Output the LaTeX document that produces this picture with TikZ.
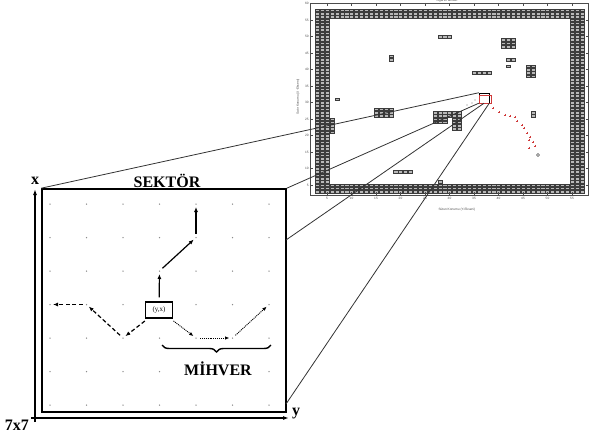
\documentclass[tikz,border=0pt]{standalone}
\usepackage{fontspec}
\setmainfont{Liberation Serif}
\setsansfont{Liberation Sans}
\usetikzlibrary{arrows.meta,decorations.pathreplacing}
\definecolor{wallgray}{HTML}{9A9A9A}
\definecolor{walledge}{HTML}{3C3C3C}
\definecolor{pathred}{HTML}{D03A3A}
\definecolor{dotgray}{HTML}{8C8C8C}

\begin{document}
\begin{tikzpicture}[x=1pt,y=-1pt,>=Latex]

\tikzset{
lbl/.style={font=\fontsize{16}{16}\selectfont\bfseries,inner sep=0pt},
tiny/.style={font=\sffamily\fontsize{3.2}{3.4}\selectfont,inner sep=0.5pt,text=black!70},
wall/.style={draw=walledge,fill=wallgray!70,line width=0.25pt},
sol/.style={-{Latex[length=5pt,width=4pt]},line width=1.2pt,shorten <=4pt,shorten >=3pt},
dsh/.style={-{Latex[length=5pt,width=4pt]},line width=1.2pt,dash pattern=on 4pt off 2.5pt,shorten <=4pt,shorten >=3pt},
dtt/.style={-{Latex[length=4.5pt,width=3.5pt]},line width=0.9pt,dash pattern=on 1pt off 0.9pt,shorten <=4pt,shorten >=3pt},
ax/.style={-{Latex[length=6pt,width=4pt]},line width=1.5pt,shorten <=-4pt},
zoomline/.style={line width=0.8pt,black!80}
}

\useasboundingbox (0,0) rectangle (590,437);

% grid map
\begin{scope}[shift={(302.5,201.5)},x=4.9pt,y=3.3pt]
\foreach \c in {3,4,5,55,56,57}
  \foreach \r in {3,...,58}
    \draw[wall] (\c-0.42,\r-0.4) rectangle (\c+0.42,\r+0.4);
\foreach \c in {6,...,54}
  \foreach \r in {3,4,5,56,57,58}
    \draw[wall] (\c-0.42,\r-0.4) rectangle (\c+0.42,\r+0.4);
\foreach \c/\r in {7/31,6/21,6/22,6/23,6/24,6/25,18/43,18/44,
    15/26,16/26,17/26,18/26,15/27,16/27,17/27,18/27,15/28,16/28,17/28,18/28,
    28/50,29/50,30/50,
    27/26,28/26,29/26,30/26,31/26,32/26,27/27,28/27,29/27,30/27,31/27,32/27,
    27/24,28/24,29/24,27/25,28/25,29/25,31/22,32/22,31/23,32/23,31/24,32/24,31/25,32/25,
    19/9,20/9,21/9,22/9,28/6,35/39,36/39,37/39,38/39,
    41/47,42/47,43/47,41/48,42/48,43/48,41/49,42/49,43/49,
    42/43,43/43,42/41,46/38,47/38,46/39,47/39,46/40,47/40,46/41,47/41,47/26,47/27}
  \draw[wall] (\c-0.42,\r-0.4) rectangle (\c+0.42,\r+0.4);
\draw[line width=0.4pt,black!70] (1.5,2) rectangle (58.4,60.2);
\foreach \t in {5,10,...,55} {
  \draw[line width=0.3pt,black!70] (\t,2) -- (\t,2.9) (\t,60.2) -- (\t,59.3);
  \node[tiny,below] (tx\t) at (\t,1.6) {\t};
}
\foreach \t in {5,10,...,60} {
  \draw[line width=0.3pt,black!70] (1.5,\t) -- (2.1,\t) (58.4,\t) -- (57.8,\t);
  \node[tiny,left] (ty\t) at (1.4,\t) {\t};
}
\node[tiny] (xlab) at (31.5,-2.4) {Sütun Konumu (Y-Ekseni)};
\node[tiny,rotate=90] (ylab) at (-0.9,31.7) {Satır Konumu (X-Ekseni)};
\node[tiny] (maptitle) at (29.5,60.8) {Izgara Haritası};
\end{scope}

\foreach \px/\py in {467/105,472/103,475/100}
  \fill[black!55] (\px,\py) circle (0.6pt);
\foreach \px/\py in {493/108,499/112,505/115,510/116,515/117,522/125,527/133,530/137,533/142,535/146,517/121,524/128,529/140,529/148}
  \draw[pathred,line width=0.35pt] (\px-1.1,\py) -- (\px+1.1,\py) (\px,\py-1.1) -- (\px,\py+1.1);
\draw[black!70,line width=0.4pt] (538,155) circle (1.5pt);

\node[draw=black,line width=0.5pt,minimum width=10pt,minimum height=10pt,inner sep=0pt] (zbox) at (484,98) {};
\draw[pathred,line width=0.4pt] (479.5,95.5) rectangle (491,103.5);

% sector
\node[draw,line width=1.6pt,minimum width=244pt,minimum height=223pt,inner sep=0pt] (sector) at (164,300.5) {};
\coordinate (secmid) at (286,240);
\coordinate (seclow) at (286,404);

\draw[zoomline] (sector.north west) -- (zbox.north west);
\draw[zoomline] (sector.north east) -- (zbox.south west);
\draw[zoomline] (secmid) -- (zbox.south);
\draw[zoomline] (seclow) -- (zbox.south east);

\foreach \i in {0,...,6}
  \foreach \j in {0,...,6} {
    \coordinate (p\i\j) at (50+36.5*\i,204+33.5*\j);
    \fill[dotgray] (p\i\j) circle (0.75pt);
  }

\coordinate (org) at (35,418);
\coordinate (xtip) at (35,189);
\coordinate (ytip) at (289,418);
\draw[ax] (org) -- (xtip);
\draw[ax] (org) -- (ytip);

\node[lbl] (xname) at (35,181) {x};
\node[lbl] (yname) at (296,414) {y};
\node[lbl] (size) at (17,425) {7x7};
\node[lbl] (title) at (167,181) {SEKTÖR};

\node[draw,fill=white,line width=1.1pt,minimum width=27pt,minimum height=16pt,inner sep=1pt,font=\fontsize{7}{7}\selectfont] (yx) at (159,310) {(y,x)};

\draw[sol] (yx) -- (p32);
\draw[sol] (p32) -- (p41);
\draw[sol] (p41) -- (p40);

\draw[dsh] (yx) -- (p24);
\draw[dsh] (p24) -- (p13);
\draw[dsh] (p13) -- (p03);

\draw[dtt] (yx) -- (p44);
\draw[dtt] (p44) -- (p54);
\draw[dtt] (p54) -- (p63);

\coordinate (bl) at (162,345);
\coordinate (br) at (271,345);
\draw[decorate,decoration={brace,mirror,amplitude=7pt},line width=1.4pt] (bl) -- (br);
\node[lbl] (axis) at (218,369) {MİHVER};

\end{tikzpicture}
\end{document}
